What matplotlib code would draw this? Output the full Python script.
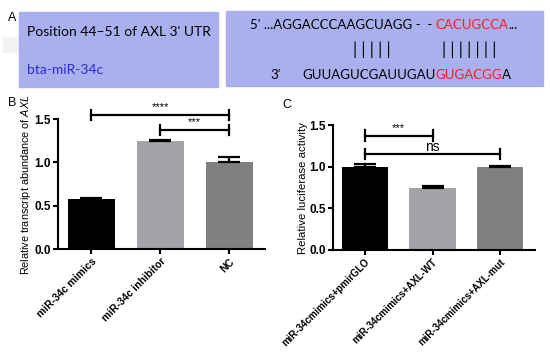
import matplotlib
matplotlib.use("Agg")
import matplotlib.pyplot as plt
from matplotlib.patches import Rectangle

plt.rcParams['font.family'] = ['Liberation Sans', 'DejaVu Sans']
plt.rcParams['mathtext.fontset'] = 'custom'
plt.rcParams['mathtext.rm'] = 'Liberation Sans'
plt.rcParams['mathtext.it'] = 'Liberation Sans:italic'

# panel B data
b_labels = ['miR-34c mimics', 'miR-34c inhibitor', 'NC']
b_values = [0.58, 1.245, 1.0]
b_err = [0.012, 0.012, 0.06]

# panel C data
c_labels = ['miR-34cmimics+pmirGLO', 'miR-34cmimics+AXL-WT', 'miR-34cmimics+AXL-mut']
c_values = [1.0, 0.745, 1.0]
c_err = [0.03, 0.02, 0.008]

bar_colors = ['#000000', '#a4a4a8', '#808080']
box_col = '#aab0ee'

W, H = 550, 352
fig = plt.figure(figsize=(5.5, 3.52), dpi=100)


def fx(px):
    return px / W


def fy(py):
    return 1 - py / H


def seq_run(x_px, y_px, parts, fs):
    # writes coloured pieces one after the other on one line
    x = x_px / W
    for s, col in parts:
        t = fig.text(x, fy(y_px), s, fontsize=fs, family=seqfont, color=col, va='center')
        fig.canvas.draw()
        x = t.get_window_extent().x1 / W


# ---- panel A: the sequence boxes ----
fig.patches.append(Rectangle((fx(3), fy(52)), fx(16), 15 / H, transform=fig.transFigure,
                             color='#f3f3f3', zorder=0))
fig.patches.append(Rectangle((fx(19), fy(87)), fx(199), 75 / H, transform=fig.transFigure,
                             color=box_col, zorder=1))
fig.patches.append(Rectangle((fx(226), fy(86)), fx(317), 75 / H, transform=fig.transFigure,
                             color=box_col, zorder=1))
fig.text(fx(8), fy(18), 'A', fontsize=9, va='center')
seqfont = ['Lato', 'DejaVu Sans']
fig.text(fx(27), fy(32), "Position 44\u201351 of AXL 3' UTR", fontsize=10,
         family=seqfont, va='center')
fig.text(fx(27), fy(70), 'bta-miR-34c', fontsize=10, family=seqfont, color='#2b2be0',
         va='center')

seq_run(250, 25, [("5' ...AGGACCCAAGCUAGG -  - ", 'black'), ('CACUGCCA', '#ff1a1a'),
                  ('...', 'black')], 9.5)
fig.text(fx(353), fy(50), '| | | | |', fontsize=12, family=seqfont, va='center')
fig.text(fx(442), fy(50), '| | | | | | |', fontsize=12, family=seqfont, va='center')
fig.text(fx(270), fy(75), "3'", fontsize=9.5, family=seqfont, va='center')
seq_run(302, 75, [('GUUAGUCGAUUGAU', 'black'), ('GUGACGG', '#ff1a1a'), ('A', 'black')], 9.5)


def bar_panel(ax, labels, values, errs, ylabel, xlim, xfs, yfs):
    x = range(len(values))
    ax.bar(x, values, width=0.68, color=bar_colors, zorder=2)
    for xi, v, e in zip(x, values, errs):
        ax.errorbar(xi, v, yerr=[[0], [e]], color='black', capsize=8, elinewidth=1.6,
                    capthick=1.6, zorder=3)
    ax.set_xlim(*xlim)
    ax.set_ylim(0, 1.5)
    ax.set_yticks([0.0, 0.5, 1.0, 1.5])
    ax.set_yticklabels(['0.0', '0.5', '1.0', '1.5'], fontweight='bold', fontsize=8.5)
    ax.set_xticks(list(x))
    ax.set_xticklabels(labels, rotation=45, ha='right', rotation_mode='anchor',
                       fontweight='bold', fontsize=xfs)
    ax.spines['top'].set_visible(False)
    ax.spines['right'].set_visible(False)
    for s in ['left', 'bottom']:
        ax.spines[s].set_linewidth(1.5)
    ax.tick_params(width=1.5, length=3.5, pad=1.5)
    ax.set_ylabel(ylabel, fontsize=yfs, labelpad=1)


def bracket(ax, x0, x1, y, h, label, fs=8, dy=0.03):
    ax.plot([x0, x1], [y, y], color='black', lw=1.6, clip_on=False)
    for xx in (x0, x1):
        ax.plot([xx, xx], [y - h, y + h], color='black', lw=1.6, clip_on=False)
    ax.text((x0 + x1) / 2, y + dy, label, ha='center', va='bottom', fontsize=fs,
            clip_on=False)


# ---- panel B ----
axb = fig.add_axes([fx(58), fy(249.3), fx(207), (249.3 - 119) / H])
bar_panel(axb, b_labels, b_values, b_err,
          r'Relative transcript abundance of $\mathit{AXL}$', (-0.483, 2.517), 7.5, 7.8)
bracket(axb, 0, 2, 1.547, 0.06, '****', dy=0.03)
bracket(axb, 1, 2, 1.374, 0.06, '***', dy=0.03)
fig.text(fx(8), fy(103), 'B', fontsize=9, va='center')

# ---- panel C ----
axc = fig.add_axes([fx(333), fy(250), fx(202), (250 - 125) / H])
bar_panel(axc, c_labels, c_values, c_err, 'Relative luciferase activity',
          (-0.468, 2.512), 7, 8.2)
bracket(axc, 0, 1, 1.372, 0.065, '***', dy=0.03)
bracket(axc, 0, 2, 1.152, 0.065, 'ns', fs=10, dy=0.0)
fig.text(fx(282), fy(105), 'C', fontsize=9, va='center')

fig.savefig('out.png', dpi=100)
